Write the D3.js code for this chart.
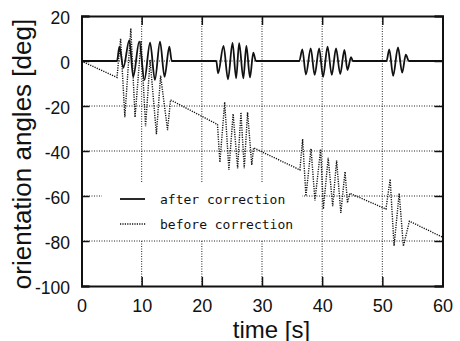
<!DOCTYPE html>
<html>
<head>
<meta charset="utf-8">
<script src="https://cdn.jsdelivr.net/npm/d3@7/dist/d3.min.js"></script>
<style>
  html, body { margin: 0; padding: 0; background: #fff; }
  svg { display: block; }
</style>
</head>
<body>
<svg id="chart" width="460" height="341"></svg>
<script>
// Orientation angle over time, after and before drift correction.
const afterTime = [0, 5.9, 6.3, 6.95, 7.95, 8.6, 9.6, 10.45, 11.4, 12.2, 13.05, 13.8, 14.6, 15.0,
  22.4, 22.7, 23.6, 24.35, 25.1, 25.7, 26.2, 26.9, 27.4, 28.0, 28.55, 29.0,
  36.2, 36.7, 37.3, 38.1, 38.75, 39.5, 40.15, 40.9, 41.6, 42.3, 43.0, 43.7, 44.2, 44.8, 45.1,
  50.7, 51.15, 51.8, 52.6, 53.3, 53.9, 54.4, 60];
const afterAngle = [0, 0, 6.4, -3, 9.3, -7, 8.6, -8.4, 8.1, -8.4, 8.6, -7, 6.4, 0,
  0, -5.5, 6.7, -8.1, 8.1, -7.7, 7.9, -7.7, 6.7, -7.3, 3.7, 0,
  0, 5.2, -6, 5.6, -6.2, 5.6, -7, 6.4, -6.2, 5.6, -5.8, 4.9, -4, 1.7, 0,
  0, 5.2, -6.6, 6, -5.2, 2.8, 0, 0];

const beforeTime = [0, 5.9, 6.5, 7.2, 8.2, 8.9, 9.9, 10.65, 11.4, 12.45, 13.15, 14.3, 14.8,
  22.6, 23.0, 23.8, 24.5, 25.2, 25.95, 26.5, 27.05, 27.6, 28.3, 28.6,
  36.3, 36.75, 37.3, 38.15, 38.8, 39.75, 40.2, 41.0, 41.75, 42.4, 43.1, 43.8, 44.2, 44.6,
  50.6, 51.3, 51.95, 52.8, 53.5, 54.5, 60];
const beforeAngle = [0, -7.3, 10, -25, 14.5, -25, 9, -29, 0.5, -32.5, -6.5, -30.7, -17.3,
  -28.2, -45, -18.3, -48.4, -23.5, -47.7, -22.8, -47.7, -22.8, -46.2, -38.6,
  -48.4, -34.7, -60, -39, -62, -39.2, -65.8, -43, -64.5, -44.2, -67.5, -49.2, -63, -58.8,
  -65.8, -52.5, -82.2, -58.8, -82.3, -71.2, -78.3];

const timeTicks = [0, 10, 20, 30, 40, 50, 60];
const angleTicks = [20, 0, -20, -40, -60, -80, -100];
const seriesNames = ["after correction", "before correction"];

const svg = d3.select("#chart");
const plotLeft = 81.5, plotRight = 442.5, plotTop = 16, plotBottom = 286;

const x = d3.scaleLinear().domain([0, 60]).range([plotLeft, plotRight]);
const y = d3.scaleLinear().domain([-100, 20]).range([plotBottom, plotTop]);

// dotted grid
const grid = svg.append("g").attr("stroke", "#222").attr("stroke-width", 1)
  .attr("stroke-dasharray", "1,1.5").attr("fill", "none");
grid.selectAll("line.v").data(timeTicks.filter(t => t > 0 && t < 60)).join("line")
  .attr("class", "v")
  .attr("x1", d => x(d)).attr("x2", d => x(d)).attr("y1", plotTop).attr("y2", plotBottom);
grid.selectAll("line.h").data(angleTicks.filter(a => a < 20 && a > -100)).join("line")
  .attr("class", "h")
  .attr("x1", plotLeft).attr("x2", plotRight).attr("y1", d => y(d)).attr("y2", d => y(d));

// legend backdrop hides the grid behind the key
svg.append("rect").attr("x", 102).attr("y", 183).attr("width", 200).attr("height", 57)
  .attr("fill", "#fff");

const afterData = afterTime.map((t, i) => [t, afterAngle[i]]);
const beforeData = beforeTime.map((t, i) => [t, beforeAngle[i]]);
const smoothLine = d3.line().x(d => x(d[0])).y(d => y(d[1])).curve(d3.curveMonotoneX);
const straightLine = d3.line().x(d => x(d[0])).y(d => y(d[1]));

svg.append("path").datum(beforeData).attr("d", straightLine)
  .attr("fill", "none").attr("stroke", "#111").attr("stroke-width", 1.4)
  .attr("stroke-dasharray", "1.2,1.2");
svg.append("path").datum(afterData).attr("d", smoothLine)
  .attr("fill", "none").attr("stroke", "#111").attr("stroke-width", 1.8)
  .attr("stroke-linejoin", "round");

// frame with inward ticks on all four sides
const axisFont = "'Liberation Sans', Arial, Helvetica, sans-serif";
const axB = svg.append("g").attr("transform", `translate(0,${plotBottom})`)
  .call(d3.axisBottom(x).tickValues(timeTicks).tickSize(-9).tickPadding(13).tickFormat(d => String(d)));
const axT = svg.append("g").attr("transform", `translate(0,${plotTop})`)
  .call(d3.axisTop(x).tickValues(timeTicks).tickSize(-9).tickFormat(""));
const axL = svg.append("g").attr("transform", `translate(${plotLeft},0)`)
  .call(d3.axisLeft(y).tickValues(angleTicks).tickSize(-8).tickPadding(11.5).tickFormat(d => String(d)));
const axR = svg.append("g").attr("transform", `translate(${plotRight},0)`)
  .call(d3.axisRight(y).tickValues(angleTicks).tickSize(-8).tickFormat(""));
[axB, axT, axL, axR].forEach(g => {
  g.select(".domain").attr("stroke", "#111").attr("stroke-width", 2);
  g.selectAll(".tick line").attr("stroke", "#111").attr("stroke-width", 1.5);
  g.selectAll("text").attr("font-family", axisFont).attr("fill", "#111");
});
axB.selectAll("text").attr("font-size", 18);
axL.selectAll("text").attr("font-size", 17.5).attr("dy", "0.42em");

svg.append("text").attr("x", 271.5).attr("y", 337.5).attr("text-anchor", "middle")
  .attr("font-family", axisFont).attr("font-size", 24).attr("fill", "#111")
  .text("time [s]");
svg.append("text").attr("transform", "translate(31,154) rotate(-90)").attr("text-anchor", "middle")
  .attr("font-family", axisFont).attr("font-size", 26).attr("fill", "#111")
  .text("orientation angles [deg]");

// key
const monoFont = "'DejaVu Sans Mono', 'Liberation Mono', monospace";
const key = svg.append("g");
key.append("line").attr("x1", 120).attr("x2", 145).attr("y1", 199).attr("y2", 199)
  .attr("stroke", "#111").attr("stroke-width", 1.8);
key.append("line").attr("x1", 120).attr("x2", 146).attr("y1", 224).attr("y2", 224)
  .attr("stroke", "#111").attr("stroke-width", 1.4).attr("stroke-dasharray", "1.2,1.2");
key.selectAll("text").data(seriesNames).join("text")
  .attr("x", 160).attr("y", (d, i) => 204 + i * 24.5)
  .attr("font-family", monoFont).attr("font-size", 13).attr("fill", "#111")
  .text(d => d);
</script>
</body>
</html>
